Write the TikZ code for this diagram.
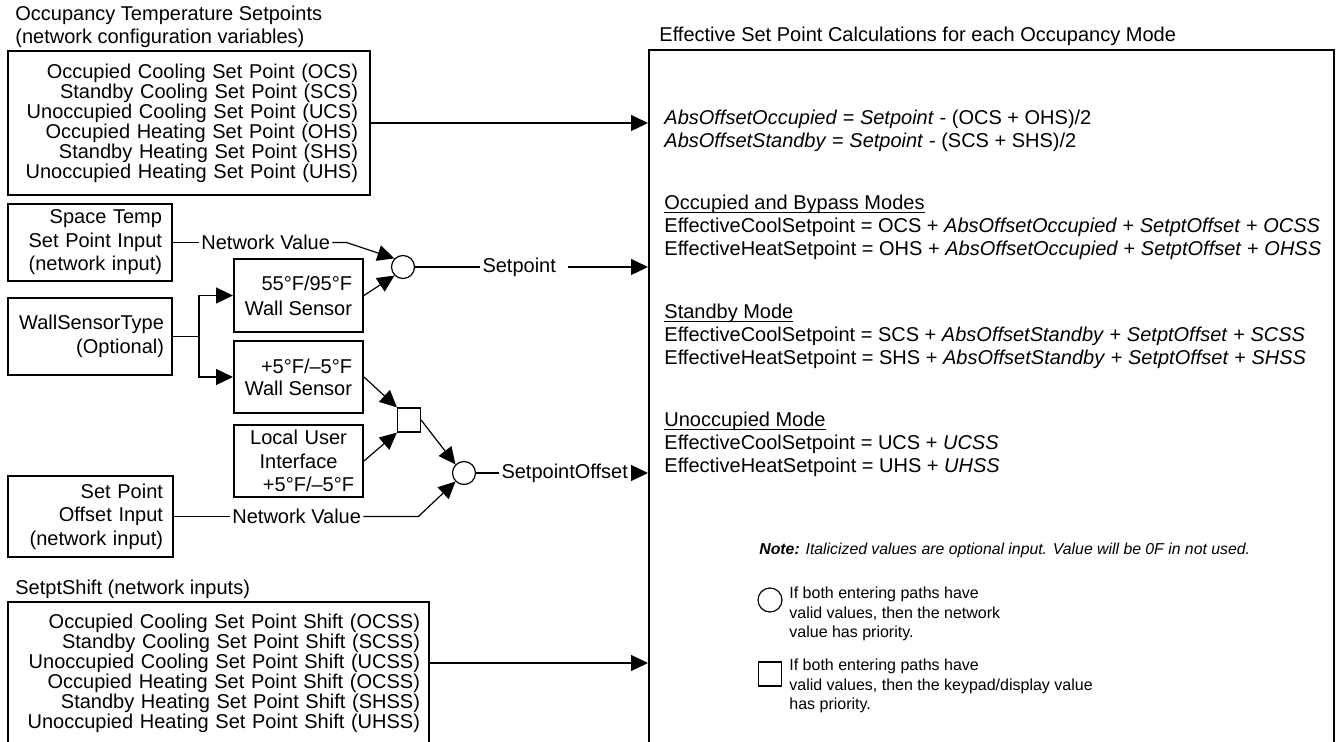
\documentclass[tikz,border=0pt]{standalone}
\usepackage{fontspec}
\setmainfont{Liberation Sans}
\usetikzlibrary{positioning, arrows.meta}
\tikzstyle{diagram} = [x = 0.5pt, y = -0.5pt, font=\fontsize{10}{10}\selectfont]
\tikzstyle{boxStyle} = [draw, line width=1pt, inner ysep=0pt, align=right, anchor=north west]
\tikzstyle{connector} = [line width=0.6pt]
\tikzstyle{arrowStyle} = [connector, -{Triangle[length=8.5pt, width=8pt]}]
\tikzstyle{joinCircle} = [draw, circle, line width=0.6pt, minimum size=11.5pt, inner sep=0pt]
\tikzstyle{joinSquare} = [draw, line width=0.6pt, minimum width=11.5pt, minimum height=12pt, inner sep=0pt]
\tikzstyle{labelText} = [inner xsep=1pt, inner ysep=0pt]
\tikzstyle{plainText} = [anchor=base west, inner sep=0pt]
\tikzstyle{noteText} = [font=\fontsize{8}{9.6}\selectfont, align=left, anchor=north west, inner sep=0pt]
\newcommand{\calcLine}[3]{\node [plainText] (#1) at (664, #2) {#3};}
\newcommand{\modeHead}[1]{\setbox0=\hbox{#1}\rlap{\rule[-1.4pt]{\wd0}{0.5pt}}\box0}

\begin{document}
\begin{tikzpicture}[diagram]
\useasboundingbox (0,0) rectangle (1337,742);
% titles
\node [plainText] (occTitle) at (15,21) {Occupancy Temperature Setpoints};
\node [plainText] (occTitleB) at (15,44) {(network configuration variables)};
\node [plainText] (calcTitle) at (659,42) {Effective Set Point Calculations for each Occupancy Mode};
\node [plainText] (shiftTitle) at (15,594) {SetptShift (network inputs)};

% input boxes
\node [boxStyle, inner xsep=6pt, text width=169pt, minimum height=72pt] (occBox) at (7,50)
  {Occupied Cooling Set Point (OCS)\\Standby Cooling Set Point (SCS)\\Unoccupied Cooling Set Point (UCS)\\Occupied Heating Set Point (OHS)\\Standby Heating Set Point (SHS)\\Unoccupied Heating Set Point (UHS)};
\node [boxStyle, inner xsep=5pt, text width=72pt, minimum height=38.5pt, font=\fontsize{10}{11.75}\selectfont] (spaceTemp) at (7,203)
  {Space Temp\\Set Point Input\\(network input)};
\node [boxStyle, inner xsep=4pt, text width=74pt, minimum height=38.5pt, font=\fontsize{10}{12}\selectfont] (wallType) at (7,297)
  {WallSensorType\\(Optional)};
\node [boxStyle, inner xsep=5pt, text width=72.5pt, minimum height=40.5pt, font=\fontsize{10}{11.75}\selectfont] (offsetInput) at (7,475)
  {Set Point\\Offset Input\\(network input)};
\node [boxStyle, inner xsep=4.5pt, text width=201.5pt, minimum height=71pt] (shiftBox) at (7,601)
  {Occupied Cooling Set Point Shift (OCSS)\\Standby Cooling Set Point Shift (SCSS)\\Unoccupied Cooling Set Point Shift (UCSS)\\Occupied Heating Set Point Shift (OCSS)\\Standby Heating Set Point Shift (SHSS)\\Unoccupied Heating Set Point Shift (UHSS)};

% sensor boxes
\node [boxStyle, inner xsep=5pt, minimum width=64.5pt, minimum height=36.5pt, font=\fontsize{10}{12.5}\selectfont] (wallA) at (233,258)
  {55°F/95°F\\Wall Sensor};
\node [boxStyle, inner xsep=5pt, minimum width=64.5pt, minimum height=36pt, font=\fontsize{10}{11}\selectfont] (wallB) at (233,340)
  {+5°F/–5°F\\Wall Sensor};
\node [boxStyle, inner xsep=4pt, text width=56.5pt, minimum height=36pt, align=center, font=\fontsize{10}{11.75}\selectfont] (localUI) at (233,424)
  {Local User\\Interface\\\hspace*{10pt}+5°F/–5°F};

% joins
\node [joinCircle] (setCircle) at (403,267) {};
\node [joinSquare] (keypadSquare) at (409,420) {};
\node [joinCircle] (offsetCircle) at (464,473) {};

\node [labelText, right=13pt of spaceTemp] (netValueA) {Network Value};
\node [labelText, right=28pt of offsetInput] (netValueB) {Network Value};
\node [labelText, right=32.5pt of setCircle] (setpointLabel) {Setpoint};
\node [labelText, right=11.5pt of offsetCircle] (offsetLabel) {SetpointOffset};

% calculation box
\node [draw, line width=1pt, anchor=north west, minimum width=342.5pt, minimum height=360pt] (calcBox) at (648,49) {};
\calcLine{absOcc}{125}{\textit{AbsOffsetOccupied} = \textit{Setpoint} - (OCS + OHS)/2}
\calcLine{absStb}{148}{\textit{AbsOffsetStandby} = \textit{Setpoint} - (SCS + SHS)/2}
\calcLine{occHead}{210}{\modeHead{Occupied and Bypass Modes}}
\calcLine{occCool}{233}{EffectiveCoolSetpoint = OCS + \textit{AbsOffsetOccupied} + \textit{SetptOffset} + \textit{OCSS}}
\calcLine{occHeat}{256}{EffectiveHeatSetpoint = OHS + \textit{AbsOffsetOccupied} + \textit{SetptOffset} + \textit{OHSS}}
\calcLine{stbHead}{319}{\modeHead{Standby Mode}}
\calcLine{stbCool}{342}{EffectiveCoolSetpoint = SCS + \textit{AbsOffsetStandby} + \textit{SetptOffset} + \textit{SCSS}}
\calcLine{stbHeat}{365}{EffectiveHeatSetpoint = SHS + \textit{AbsOffsetStandby} + \textit{SetptOffset} + \textit{SHSS}}
\calcLine{unoHead}{427}{\modeHead{Unoccupied Mode}}
\calcLine{unoCool}{450}{EffectiveCoolSetpoint = UCS + \textit{UCSS}}
\calcLine{unoHeat}{473}{EffectiveHeatSetpoint = UHS + \textit{UHSS}}

% note and legend
\node [anchor=west, inner sep=0pt, font=\fontsize{7.9}{9}\selectfont] (note) at (759,550)
  {\textbf{\textit{Note:}} \textit{Italicized values are optional input. Value will be 0F in not used.}};
\node [joinCircle, minimum size=12pt] (legendCircle) at (770,600) {};
\node [joinSquare] (legendSquare) at (770,674) {};
\node [noteText] (circleNote) at (789,587) {If both entering paths have\\valid values, then the network\\value has priority.};
\node [noteText] (squareNote) at (789,659) {If both entering paths have\\valid values, then the keypad/display value\\has priority.};

% connectors
\draw [arrowStyle] (occBox.east) -- (occBox.east -| calcBox.west);
\draw [connector] (spaceTemp.east) -- (netValueA.west);
\draw [arrowStyle] (netValueA.east) -- ++(14,0) -- (setCircle.135);
\draw [arrowStyle] (wallType.east) -- ++(26,0) |- (wallA.west);
\draw [arrowStyle] (wallType.east) -- ++(26,0) |- (wallB.west);
\draw [arrowStyle] (wallA.east) -- (setCircle.225);
\draw [connector] (setCircle.east) -- (setpointLabel.west);
\draw [arrowStyle] ([xshift=5pt]setpointLabel.east) -- (setpointLabel.east -| calcBox.west);
\draw [arrowStyle] (wallB.east) -- (keypadSquare.north west);
\draw [arrowStyle] (localUI.east) -- (keypadSquare.south west);
\draw [arrowStyle] (keypadSquare.east) -- (offsetCircle.135);
\draw [connector] (offsetInput.east) -- (netValueB.west);
\draw [arrowStyle] (netValueB.east) -- ++(55,0) -- (offsetCircle.225);
\draw [connector] (offsetCircle.east) -- (offsetLabel.west);
\draw [arrowStyle] ([xshift=2pt]offsetLabel.east) -- (offsetLabel.east -| calcBox.west);
\draw [arrowStyle] ([yshift=5pt]shiftBox.east) -- ([yshift=5pt]shiftBox.east -| calcBox.west);
\end{tikzpicture}
\end{document}
